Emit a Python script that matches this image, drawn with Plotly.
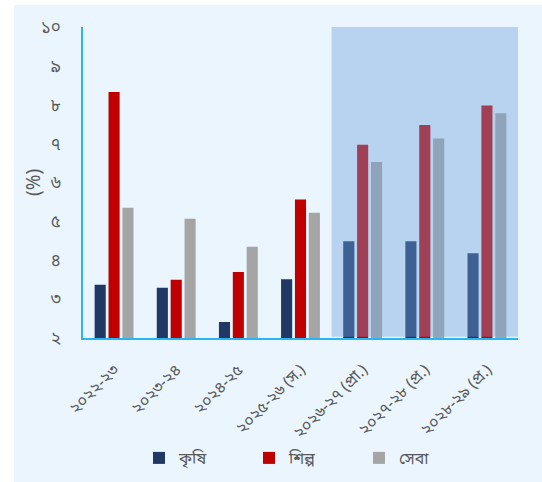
import plotly.graph_objects as go

categories = ["২০২২-২৩", "২০২৩-২৪", "২০২৪-২৫", "২০২৫-২৬ (স.)",
              "২০২৬-২৭ (প্রা.)", "২০২৭-২৮ (প্র.)", "২০২৮-২৯ (প্র.)"]
agri = [3.37, 3.29, 2.41, 3.51, 4.49, 4.49, 4.18]
industry = [8.33, 3.50, 3.70, 5.56, 6.97, 7.48, 7.98]
service = [5.35, 5.07, 4.35, 5.22, 6.53, 7.13, 7.78]
series_names = ["কৃষি", "শিল্প", "সেবা"]
colors = ["#1F3864", "#C00000", "#A5A5A5"]
ytick_vals = [2, 3, 4, 5, 6, 7, 8, 9, 10]
ytick_text = ["২", "৩", "৪", "৫", "৬", "৭", "৮", "৯", "১০"]
y_title = "(%)"

FONT = "Noto Sans, Noto Sans Bengali, Lato, sans-serif"

fig = go.Figure()
for name, vals, col in zip(series_names, [agri, industry, service], colors):
    fig.add_trace(go.Bar(x=categories, y=vals, name=name, marker_color=col,
                         marker_line_width=0))

W, H = 542, 482
ml, mr, mt, mb = 83, 24, 27, 144
pw, ph = W - ml - mr, H - mt - mb

def px_x(p):
    return (p - ml) / pw

def px_y(p):
    return (H - mb - p) / ph

# light-blue panel background
fig.add_shape(type="rect", xref="paper", yref="paper",
              x0=px_x(14), x1=px_x(W + 2), y0=px_y(H + 2), y1=px_y(5),
              fillcolor="#EAF5FD", line_width=0, layer="below")
# projection shading
fig.add_shape(type="rect", xref="x", yref="y", x0=3.5, x1=6.5, y0=2.03, y1=10.05,
              fillcolor="rgba(111,159,217,0.4)", line_width=0, layer="above")

# y-axis title
fig.add_annotation(text=y_title, textangle=-90, xref="paper", yref="paper",
                   x=px_x(33), y=px_y(183), xanchor="center", yanchor="middle",
                   showarrow=False, font=dict(size=19, color="#595959"))

fig.update_layout(
    width=W, height=H,
    margin=dict(l=ml, r=mr, t=mt, b=mb, pad=0, autoexpand=False),
    paper_bgcolor="white", plot_bgcolor="white",
    barmode="group", bargap=0.33, bargroupgap=0.2,
    font=dict(family=FONT, color="#595959", size=13),
    showlegend=True,
    legend=dict(orientation="h", xref="container", x=139 / W, xanchor="left",
                yref="container", y=(H - 458) / H, yanchor="middle",
                entrywidth=65, entrywidthmode="pixels",
                font=dict(size=16, color="#595959"),
                bgcolor="rgba(0,0,0,0)"),
)
fig.update_xaxes(showline=True, linecolor="#29B6F0", linewidth=2,
                 tickangle=-45, ticks="", showgrid=False, automargin=False,
                 ticklabelstandoff=14,
                 tickfont=dict(size=16, color="#595959"))
fig.update_yaxes(range=[2, 10], tickvals=ytick_vals, ticktext=ytick_text,
                 showline=True, linecolor="#29B6F0", linewidth=1.5,
                 showgrid=False, zeroline=False, ticks="", automargin=False,
                 ticklabelstandoff=17,
                 tickfont=dict(size=17, color="#595959"))

fig.write_html("out.html")
